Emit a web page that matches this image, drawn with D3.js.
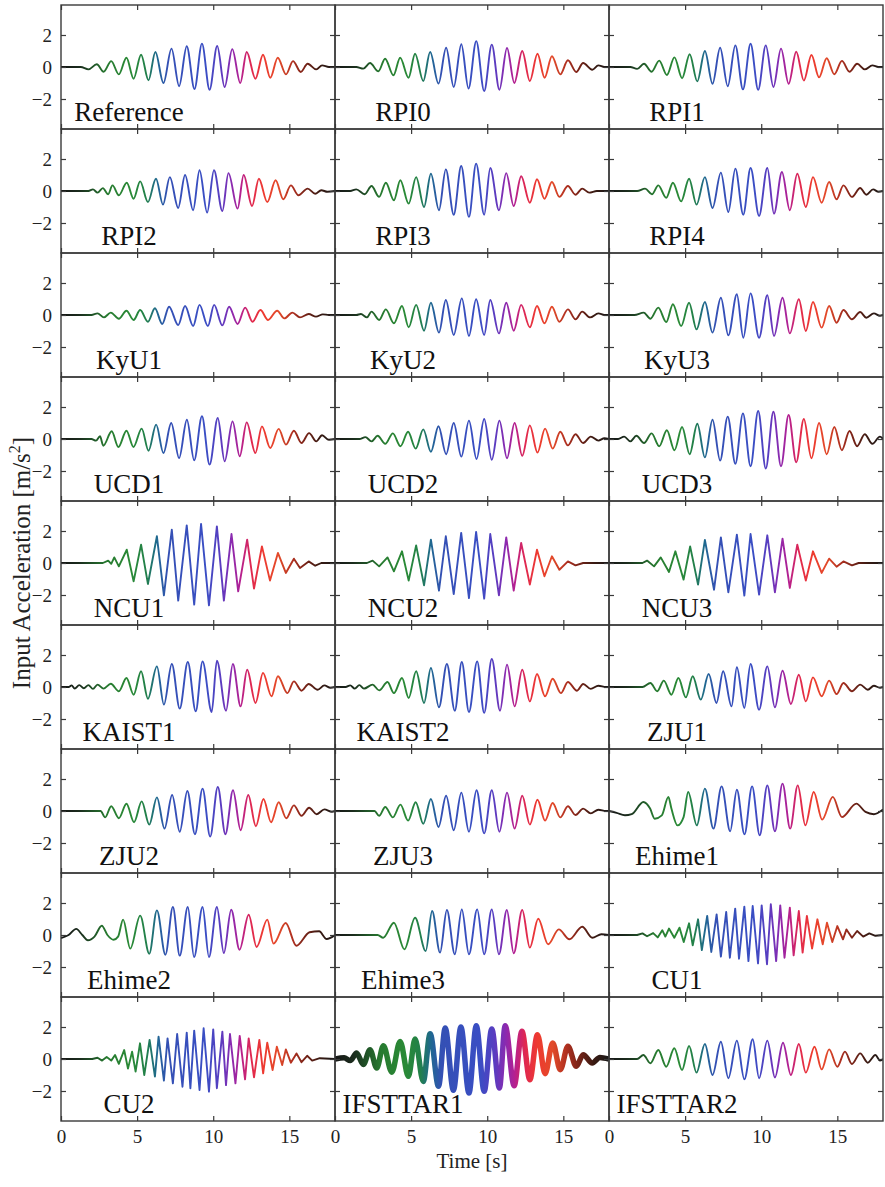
<!DOCTYPE html>
<html><head><meta charset="utf-8">
<script src="https://cdnjs.cloudflare.com/ajax/libs/d3/7.8.5/d3.min.js"></script>
<style>body{margin:0;background:#fff} svg{display:block}</style>
</head><body>
<svg id="chart" width="885" height="1187"></svg>
<script>
// ---------- data ([time s, acceleration m/s2] extrema) ----------
const panelLabels = ["Reference","RPI0","RPI1","RPI2","RPI3","RPI4","KyU1","KyU2","KyU3",
  "UCD1","UCD2","UCD3","NCU1","NCU2","NCU3","KAIST1","KAIST2","ZJU1",
  "ZJU2","ZJU3","Ehime1","Ehime2","Ehime3","CU1","CU2","IFSTTAR1","IFSTTAR2"];
const xTickValues = [0, 5, 10, 15];
const yTickValues = [-2, 0, 2];

const Reference = [[0,0],[1.3,0],[1.8,-0.15],[2.35,0.17],[2.8,-0.3],[3.3,0.37],[3.8,-0.46],[4.3,0.58],[4.77,-0.73],[5.26,0.77],[5.75,-0.83],[6.2,0.94],[6.73,-1.0],[7.26,1.15],[7.76,-1.2],[8.26,1.3],[8.77,-1.38],[9.26,1.46],[9.76,-1.42],[10.26,1.31],[10.75,-1.25],[11.25,1.12],[11.78,-1.0],[12.2,0.94],[12.77,-0.73],[13.27,0.77],[13.75,-0.67],[14.24,0.58],[14.78,-0.46],[15.24,0.37],[15.75,-0.31],[16.2,0.2],[16.77,-0.15],[17.15,0.1],[17.6,0],[18,0]];
const RPI0 = [[0,0],[1.4,0],[1.86,-0.1],[2.3,0.25],[2.85,-0.27],[3.29,0.52],[3.84,-0.52],[4.28,0.58],[4.83,-0.67],[5.26,0.83],[5.8,-0.88],[6.25,0.94],[6.8,-1.04],[7.3,1.2],[7.8,-1.25],[8.3,1.42],[8.77,-1.35],[9.28,1.62],[9.8,-1.5],[10.3,1.4],[10.8,-1.42],[11.3,1.19],[11.78,-1.0],[12.3,1.0],[12.8,-0.88],[13.3,0.83],[13.77,-0.67],[14.25,0.67],[14.8,-0.46],[15.3,0.42],[15.85,-0.31],[16.3,0.25],[16.9,-0.17],[17.3,0.1],[17.7,0],[18,0]];
const RPI1 = [[0,0],[1.4,0],[1.85,-0.12],[2.3,0.2],[2.8,-0.3],[3.3,0.4],[3.8,-0.5],[4.3,0.6],[4.8,-0.7],[5.3,0.8],[5.8,-0.9],[6.3,1.0],[6.8,-1.05],[7.3,1.2],[7.8,-1.2],[8.3,1.35],[8.8,-1.4],[9.3,1.45],[9.8,-1.42],[10.3,1.35],[10.8,-1.25],[11.3,1.15],[11.8,-1.05],[12.3,0.95],[12.8,-0.85],[13.3,0.75],[13.8,-0.65],[14.3,0.55],[14.8,-0.45],[15.3,0.38],[15.8,-0.3],[16.3,0.2],[16.8,-0.15],[17.3,0.1],[17.7,0],[18,0]];
const RPI2 = [[0,0],[1.8,0],[2.1,0.1],[2.4,-0.1],[2.75,0.18],[3.1,-0.2],[3.38,0.35],[3.8,-0.27],[4.32,0.52],[4.77,-0.48],[5.2,0.6],[5.71,-0.69],[6.24,0.77],[6.7,-0.85],[7.15,0.87],[7.7,-1.06],[8.15,1.0],[8.68,-1.2],[9.1,1.3],[9.6,-1.35],[10.05,1.3],[10.6,-1.25],[11.0,1.12],[11.6,-1.1],[12.0,1.0],[12.55,-0.94],[13.0,0.77],[13.55,-0.69],[14.1,0.67],[14.6,-0.52],[15.1,0.35],[15.6,-0.27],[16.2,0.15],[16.7,-0.17],[17.1,0.05],[17.5,-0.05],[18,0]];
const RPI3 = [[0,0],[1.0,0],[1.4,0.1],[1.95,-0.2],[2.4,0.31],[2.9,-0.37],[3.34,0.52],[3.87,-0.58],[4.29,0.67],[4.84,-0.79],[5.33,0.87],[5.85,-1.0],[6.3,1.08],[6.83,-1.2],[7.28,1.35],[7.8,-1.48],[8.29,1.56],[8.8,-1.62],[9.27,1.71],[9.8,-1.48],[10.2,1.44],[10.77,-1.2],[11.25,1.12],[11.74,-0.94],[12.23,0.92],[12.8,-0.73],[13.27,0.73],[13.76,-0.48],[14.25,0.56],[14.74,-0.37],[15.3,0.31],[15.8,-0.23],[16.24,0.15],[16.7,-0.1],[17.2,0],[18,0]];
const RPI4 = [[0,0],[1.85,0],[2.37,0.15],[2.82,-0.2],[3.24,0.35],[3.76,-0.42],[4.2,0.52],[4.74,-0.65],[5.26,0.77],[5.75,-0.85],[6.3,0.87],[6.8,-1.06],[7.35,1.15],[7.84,-1.31],[8.3,1.4],[8.82,-1.48],[9.3,1.44],[9.86,-1.56],[10.4,1.44],[10.84,-1.42],[11.36,1.19],[11.88,-1.2],[12.37,1.08],[12.93,-1.0],[13.4,0.87],[13.97,-0.73],[14.46,0.56],[14.95,-0.52],[15.4,0.35],[15.96,-0.37],[16.5,0.19],[16.9,-0.23],[17.35,0.1],[17.7,-0.05],[18,0]];
const KyU1 = [[0,0],[2.0,0],[2.4,0.1],[2.82,-0.15],[3.27,0.15],[3.8,-0.23],[4.3,0.27],[4.77,-0.31],[5.2,0.31],[5.71,-0.42],[6.17,0.42],[6.65,-0.56],[7.1,0.52],[7.7,-0.63],[8.15,0.56],[8.68,-0.69],[9.1,0.63],[9.65,-0.69],[10.06,0.63],[10.6,-0.65],[11.04,0.52],[11.6,-0.56],[12.1,0.46],[12.58,-0.42],[13.1,0.31],[13.6,-0.31],[14.2,0.27],[14.67,-0.21],[15.2,0.15],[15.7,-0.15],[16.27,0.06],[16.75,-0.1],[17.2,0.04],[17.6,0],[18,0]];
const KyU2 = [[0,0],[1.4,0],[1.7,0.06],[2.1,-0.15],[2.4,0.21],[2.9,-0.31],[3.34,0.35],[3.87,-0.52],[4.4,0.56],[4.84,-0.77],[5.33,0.63],[5.85,-0.98],[6.3,0.77],[6.83,-1.1],[7.28,0.94],[7.8,-1.25],[8.33,1.04],[8.8,-1.31],[9.27,0.98],[9.8,-1.25],[10.2,0.94],[10.77,-1.15],[11.25,0.77],[11.74,-0.98],[12.23,0.63],[12.8,-0.77],[13.27,0.56],[13.76,-0.52],[14.25,0.52],[14.74,-0.42],[15.3,0.35],[15.8,-0.27],[16.24,0.21],[16.76,-0.15],[17.3,0.1],[17.7,0],[18,0]];
const KyU3 = [[0,0],[1.67,0],[2.28,0.15],[2.72,-0.23],[3.24,0.46],[3.76,-0.44],[4.2,0.67],[4.74,-0.69],[5.26,0.77],[5.75,-0.9],[6.3,0.81],[6.8,-1.1],[7.35,1.08],[7.84,-1.27],[8.4,1.3],[8.82,-1.42],[9.3,1.35],[9.86,-1.42],[10.4,1.23],[10.84,-1.31],[11.4,1.08],[11.88,-1.15],[12.47,0.98],[12.93,-1.0],[13.4,0.81],[13.97,-0.79],[14.46,0.56],[14.95,-0.48],[15.4,0.31],[15.96,-0.27],[16.5,0.19],[16.9,-0.17],[17.4,0.1],[17.8,-0.05],[18,0]];
const UCD1 = [[0,0],[2.0,0],[2.3,-0.1],[2.56,0.17],[2.78,-0.42],[3.33,0.48],[3.77,-0.5],[4.3,0.52],[4.76,-0.5],[5.3,0.65],[5.75,-0.73],[6.25,0.9],[6.73,-0.88],[7.24,1.0],[7.76,-1.19],[8.27,1.2],[8.75,-1.33],[9.26,1.42],[9.76,-1.6],[10.3,1.31],[10.75,-1.4],[11.27,1.1],[11.74,-1.08],[12.2,1.04],[12.77,-0.88],[13.2,0.79],[13.75,-0.56],[14.3,0.63],[14.78,-0.35],[15.3,0.52],[15.8,-0.25],[16.3,0.37],[16.77,-0.15],[17.15,0.23],[17.6,-0.05],[18,0]];
const UCD2 = [[0,0],[1.6,0],[2.0,0.12],[2.4,-0.15],[2.8,0.2],[3.3,-0.3],[3.8,0.35],[4.3,-0.45],[4.8,0.45],[5.3,-0.6],[5.8,0.6],[6.3,-0.8],[6.8,0.8],[7.3,-0.95],[7.8,1.0],[8.3,-1.1],[8.8,1.15],[9.3,-1.25],[9.8,1.25],[10.3,-1.3],[10.8,1.15],[11.3,-1.2],[11.8,1.0],[12.3,-1.05],[12.8,0.85],[13.3,-0.85],[13.8,0.65],[14.3,-0.6],[14.8,0.45],[15.3,-0.4],[15.8,0.3],[16.3,-0.25],[16.8,0.15],[17.3,-0.1],[17.7,0.05],[18,0]];
const UCD3 = [[0,0],[0.6,0],[1.0,0.15],[1.4,-0.15],[1.8,0.2],[2.3,-0.25],[2.8,0.35],[3.3,-0.45],[3.8,0.55],[4.3,-0.7],[4.8,0.75],[5.3,-0.95],[5.8,0.95],[6.3,-1.15],[6.8,1.2],[7.3,-1.35],[7.8,1.4],[8.3,-1.55],[8.8,1.6],[9.3,-1.7],[9.8,1.75],[10.3,-1.85],[10.8,1.7],[11.3,-1.7],[11.8,1.5],[12.3,-1.45],[12.8,1.25],[13.3,-1.2],[13.8,1.0],[14.3,-0.95],[14.8,0.75],[15.3,-0.7],[15.8,0.5],[16.3,-0.45],[16.8,0.3],[17.3,-0.3],[17.8,0.15],[18,0]];
const NCU1 = [[0,0],[2.75,0],[3.1,0.15],[3.3,-0.05],[3.5,0.35],[3.8,-0.21],[4.32,0.83],[4.77,-1.15],[5.26,1.15],[5.71,-1.31],[6.3,1.67],[6.76,-2.02],[7.28,2.08],[7.7,-2.35],[8.26,2.35],[8.75,-2.6],[9.2,2.44],[9.72,-2.65],[10.24,2.29],[10.7,-2.35],[11.2,1.81],[11.64,-1.77],[12.23,1.46],[12.68,-1.6],[13.2,1.04],[13.73,-1.1],[14.25,0.63],[14.77,-0.62],[15.3,0.27],[15.7,-0.31],[16.27,0.1],[16.7,-0.17],[17.1,0],[18,0]];
const NCU2 = [[0,0],[2.1,0],[2.47,0.15],[2.9,-0.21],[3.45,0.35],[3.87,-0.52],[4.4,0.73],[4.84,-1.1],[5.33,1.1],[5.85,-1.4],[6.3,1.46],[6.83,-1.73],[7.28,1.67],[7.8,-1.94],[8.29,1.88],[8.8,-2.19],[9.27,1.94],[9.8,-2.23],[10.2,1.81],[10.77,-2.02],[11.25,1.6],[11.74,-1.73],[12.23,1.25],[12.8,-1.35],[13.27,0.83],[13.76,-0.83],[14.25,0.42],[14.74,-0.42],[15.3,0.1],[15.8,-0.15],[16.3,0],[18,0]];
const NCU3 = [[0,0],[2.2,0],[2.5,0.15],[2.96,-0.21],[3.4,0.35],[3.94,-0.56],[4.36,0.73],[4.9,-1.04],[5.33,1.04],[5.85,-1.35],[6.3,1.44],[6.9,-1.67],[7.35,1.6],[7.84,-1.83],[8.4,1.77],[8.89,-2.04],[9.3,1.81],[9.86,-1.98],[10.4,1.73],[10.9,-1.83],[11.4,1.52],[11.88,-1.56],[12.37,1.15],[12.93,-1.1],[13.4,0.73],[13.97,-0.62],[14.46,0.27],[14.95,-0.23],[15.4,0.1],[15.96,-0.15],[16.4,0],[18,0]];
const KAIST1 = [[0,0],[0.5,0],[0.7,0.1],[0.9,-0.1],[1.2,0.12],[1.5,-0.08],[1.8,0.12],[2.1,-0.12],[2.4,0.15],[2.8,-0.1],[3.27,0.2],[3.8,-0.27],[4.3,0.56],[4.77,-0.48],[5.26,0.98],[5.71,-0.73],[6.3,1.29],[6.76,-1.1],[7.28,1.44],[7.8,-1.35],[8.33,1.56],[8.85,-1.52],[9.3,1.6],[9.9,-1.56],[10.24,1.65],[10.84,-1.48],[11.29,1.44],[11.8,-1.21],[12.23,1.08],[12.78,-1.0],[13.27,0.88],[13.83,-0.58],[14.25,0.67],[14.87,-0.38],[15.3,0.35],[15.8,-0.23],[16.27,0.19],[16.86,-0.17],[17.3,0.1],[17.7,-0.05],[18,0]];
const KAIST2 = [[0,0],[0.7,0],[1.0,0.1],[1.3,-0.1],[1.6,0.12],[1.9,-0.1],[2.47,0.15],[2.9,-0.21],[3.45,0.31],[3.87,-0.38],[4.4,0.56],[4.84,-0.69],[5.33,0.98],[5.85,-1.0],[6.3,1.19],[6.83,-1.27],[7.35,1.44],[7.87,-1.48],[8.33,1.56],[8.8,-1.56],[9.34,1.6],[9.8,-1.62],[10.3,1.75],[10.84,-1.48],[11.3,1.4],[11.8,-1.21],[12.3,1.08],[12.8,-0.9],[13.27,0.81],[13.8,-0.58],[14.3,0.52],[14.84,-0.38],[15.3,0.31],[15.9,-0.23],[16.3,0.19],[16.8,-0.12],[17.3,0.08],[17.8,0],[18,0]];
const ZJU1 = [[0,0],[2.2,0],[2.72,0.25],[3.17,-0.27],[3.6,0.4],[4.1,-0.48],[4.56,0.56],[5.05,-0.65],[5.5,0.67],[6.03,-0.79],[6.55,0.81],[7.06,-1.0],[7.5,0.98],[8.05,-1.21],[8.4,1.23],[8.89,-1.31],[9.3,1.44],[9.86,-1.42],[10.4,1.29],[10.9,-1.27],[11.4,1.02],[11.95,-1.06],[12.47,0.77],[12.93,-0.9],[13.4,0.6],[13.97,-0.58],[14.46,0.4],[14.95,-0.44],[15.4,0.25],[15.96,-0.27],[16.5,0.15],[17.0,-0.17],[17.4,0.08],[17.8,-0.05],[18,0]];
const ZJU2 = [[0,0],[2.6,0],[2.9,-0.4],[3.3,0.3],[3.8,-0.45],[4.3,0.45],[4.8,-0.7],[5.3,0.6],[5.8,-0.85],[6.3,0.85],[6.8,-1.1],[7.3,1.0],[7.8,-1.3],[8.3,1.25],[8.8,-1.45],[9.3,1.4],[9.8,-1.6],[10.3,1.5],[10.8,-1.45],[11.3,1.3],[11.8,-1.2],[12.3,1.0],[12.8,-0.95],[13.3,0.75],[13.8,-0.7],[14.3,0.55],[14.8,-0.45],[15.3,0.35],[15.8,-0.3],[16.3,0.2],[16.8,-0.2],[17.3,0.1],[17.8,-0.05],[18,0]];
const ZJU3 = [[0,0],[2.6,0],[2.9,-0.3],[3.3,0.25],[3.8,-0.4],[4.3,0.4],[4.8,-0.6],[5.3,0.55],[5.8,-0.8],[6.3,0.75],[6.8,-1.0],[7.3,0.95],[7.8,-1.2],[8.3,1.15],[8.8,-1.3],[9.3,1.3],[9.8,-1.4],[10.3,1.3],[10.8,-1.3],[11.3,1.15],[11.8,-1.1],[12.3,0.95],[12.8,-0.85],[13.3,0.7],[13.8,-0.6],[14.3,0.5],[14.8,-0.4],[15.3,0.3],[15.8,-0.25],[16.3,0.15],[16.8,-0.15],[17.3,0.08],[17.8,0],[18,0]];
const Ehime1 = [[0,0],[0.5,-0.12],[1.05,-0.27],[1.49,-0.2],[2.26,0.56],[2.7,0.15],[3.0,-0.48],[3.47,-0.27],[3.9,0.88],[4.1,0.15],[4.5,-0.9],[4.9,-0.38],[5.2,1.19],[5.77,-0.9],[6.3,1.4],[6.86,-1.1],[7.4,1.54],[7.96,-1.27],[8.4,1.33],[8.9,-1.46],[9.4,1.54],[9.9,-1.52],[10.4,1.6],[10.9,-1.27],[11.4,1.71],[11.9,-1.1],[12.4,1.6],[12.9,-0.9],[13.45,1.19],[14.0,-0.54],[14.7,0.88],[15.3,-0.38],[16.25,0.46],[16.85,-0.06],[17.4,-0.2],[18,0.1]];
const Ehime2 = [[0,-0.19],[0.5,0.0],[1.0,0.38],[1.4,0.0],[1.77,-0.33],[2.2,-0.1],[2.68,0.58],[3.05,0.0],[3.45,-0.3],[3.75,-0.1],[4.08,0.96],[4.55,-0.85],[5.2,1.21],[5.8,-1.17],[6.3,1.54],[6.86,-1.23],[7.35,1.75],[7.8,-1.29],[8.33,1.75],[8.74,-1.38],[9.3,1.75],[9.72,-1.38],[10.24,1.75],[10.7,-1.13],[11.18,1.58],[11.73,-0.92],[12.33,1.27],[12.85,-0.75],[13.55,0.96],[13.96,-0.54],[14.76,0.75],[15.46,-0.67],[16.33,0.17],[16.96,0.23],[17.45,-0.25],[18,0]];
const Ehime3 = [[0,0],[2.8,0],[3.17,-0.17],[3.87,0.77],[4.56,-0.9],[5.26,1.08],[5.96,-1.0],[6.38,1.5],[6.9,-1.1],[7.35,1.56],[7.87,-1.21],[8.33,1.6],[8.8,-1.21],[9.34,1.6],[9.8,-1.21],[10.3,1.6],[10.77,-1.21],[11.29,1.56],[11.74,-1.15],[12.3,1.56],[12.8,-0.79],[13.35,1.02],[14.0,-0.58],[14.7,0.35],[15.4,-0.27],[16.24,0.52],[16.9,-0.17],[17.5,0.05],[18,0]];
const CU1 = [[0,0],[1.85,0],[2.2,0.1],[2.5,-0.08],[2.9,0.12],[3.2,-0.15],[3.5,0.3],[3.7,-0.1],[3.94,0.4],[4.29,-0.17],[4.63,0.46],[4.91,-0.44],[5.26,0.73],[5.5,-0.65],[5.85,0.98],[6.1,-0.94],[6.45,1.19],[6.72,-1.06],[7.07,1.29],[7.35,-1.35],[7.7,1.44],[7.94,-1.42],[8.29,1.65],[8.54,-1.48],[8.89,1.77],[9.16,-1.63],[9.44,1.81],[9.79,-1.77],[10.03,1.85],[10.38,-1.83],[10.63,1.92],[10.98,-1.63],[11.25,1.85],[11.53,-1.42],[11.88,1.71],[12.13,-1.27],[12.47,1.5],[12.72,-1.1],[13.0,1.19],[13.34,-0.85],[13.69,0.98],[14.04,-0.58],[14.32,0.77],[14.67,-0.44],[15.0,0.56],[15.37,-0.27],[15.6,0.35],[15.96,-0.17],[16.3,0.25],[16.7,-0.1],[17.1,0.1],[17.5,-0.05],[18,0]];
const CU2 = [[0,0],[2.05,0],[2.4,0.08],[2.7,-0.1],[3.0,0.12],[3.3,-0.1],[3.55,0.25],[3.8,-0.3],[4.15,0.56],[4.4,-0.6],[4.67,0.46],[4.9,-0.79],[5.19,0.98],[5.47,-1.0],[5.82,1.19],[6.17,-1.1],[6.41,1.4],[6.76,-1.35],[7.0,1.29],[7.35,-1.52],[7.63,1.56],[7.98,-1.73],[8.26,1.65],[8.5,-1.83],[8.75,1.77],[9.1,-1.94],[9.37,1.92],[9.72,-2.04],[10.0,1.85],[10.24,-1.83],[10.6,1.71],[10.84,-1.63],[11.1,1.56],[11.46,-1.52],[11.74,1.44],[12.09,-1.27],[12.33,1.29],[12.68,-1.15],[13.03,1.19],[13.28,-0.9],[13.55,1.02],[13.9,-0.69],[14.18,0.77],[14.53,-0.38],[14.77,0.6],[15.1,-0.23],[15.47,0.35],[15.8,-0.2],[16.17,0.2],[16.5,-0.1],[17.0,0.05],[18,0]];
const IFSTTAR1 = [[0,0],[0.6,0.08],[1.0,-0.1],[1.42,0.37],[1.86,-0.35],[2.3,0.58],[2.74,-0.56],[3.18,0.83],[3.73,-0.83],[4.28,1.1],[4.82,-1.08],[5.26,1.25],[5.8,-1.4],[6.25,1.58],[6.8,-1.71],[7.24,1.94],[7.78,-1.96],[8.27,2.0],[8.8,-2.13],[9.28,2.08],[9.8,-2.02],[10.3,1.88],[10.8,-1.81],[11.18,2.08],[11.77,-1.67],[12.28,1.73],[12.8,-1.29],[13.3,1.52],[13.8,-0.92],[14.3,1.0],[14.8,-0.67],[15.3,0.79],[15.85,-0.46],[16.3,0.27],[16.9,-0.25],[17.4,0.1],[18,0]];
const IFSTTAR2 = [[0,0],[1.85,0],[2.26,0.25],[2.72,-0.27],[3.24,0.56],[3.76,-0.48],[4.29,0.67],[4.8,-0.69],[5.26,0.81],[5.75,-0.85],[6.3,0.94],[6.8,-1.0],[7.35,1.08],[7.84,-1.2],[8.4,1.15],[8.89,-1.27],[9.44,1.23],[9.86,-1.2],[10.4,1.15],[10.9,-1.15],[11.43,1.02],[11.95,-1.0],[12.47,0.94],[12.93,-0.85],[13.5,0.77],[13.97,-0.65],[14.46,0.6],[15.0,-0.48],[15.5,0.46],[15.96,-0.31],[16.5,0.35],[17.0,-0.23],[17.5,0.25],[17.8,-0.1],[18,0]];

const panelSeries = [Reference,RPI0,RPI1,RPI2,RPI3,RPI4,KyU1,KyU2,KyU3,UCD1,UCD2,UCD3,NCU1,NCU2,NCU3,
  KAIST1,KAIST2,ZJU1,ZJU2,ZJU3,Ehime1,Ehime2,Ehime3,CU1,CU2,IFSTTAR1,IFSTTAR2];

// ---------- styling ----------
const spikyPanels = ["NCU1","NCU2","NCU3","CU1","CU2"];
const thickPanels = ["IFSTTAR1"];
const timeColors = [[0,"#161616"],[1.2,"#1b2c1d"],[2.0,"#1f4f26"],[3.0,"#277a30"],[4.6,"#2a8a36"],[5.6,"#22804a"],
  [6.3,"#1f6890"],[7.0,"#3450b4"],[9.5,"#3a4ec4"],[10.5,"#5a3cc0"],[11.2,"#8a2ab0"],[11.8,"#b52090"],
  [12.5,"#e02850"],[13.3,"#ee3a30"],[14.3,"#e24a2a"],[15.2,"#b03020"],[16.0,"#7a2418"],[17.0,"#3a1a12"],[18,"#1a1a1a"]];

const svg = d3.select("#chart");
const W = 885, H = 1187;
const mLeft = 61, mTop = 5, pw = 274, ph = 124, ncol = 3, nrow = 9;
const serif = "'Liberation Serif','Times New Roman',serif";

const x = d3.scaleLinear().domain([0, 18]).range([0, pw]);
const y = d3.scaleLinear().domain([-3.875, 3.875]).range([ph, 0]);

const defs = svg.append("defs");
const grad = defs.append("linearGradient").attr("id", "tgrad")
  .attr("gradientUnits", "userSpaceOnUse")
  .attr("x1", x(0)).attr("x2", x(18)).attr("y1", 0).attr("y2", 0);
timeColors.forEach(([t, c]) => grad.append("stop").attr("offset", t / 18).attr("stop-color", c));
defs.append("clipPath").attr("id", "pclip").append("rect")
  .attr("x", 0).attr("y", 0).attr("width", pw).attr("height", ph);

svg.append("rect").attr("width", W).attr("height", H).attr("fill", "#fff");

panelSeries.forEach((series, i) => {
  const col = i % ncol, row = Math.floor(i / ncol);
  const name = panelLabels[i];
  const g = svg.append("g").attr("transform", `translate(${mLeft + col * pw},${mTop + row * ph})`);
  const line = d3.line().x(d => x(d[0])).y(d => y(d[1]))
    .curve(spikyPanels.includes(name) ? d3.curveLinear : d3.curveMonotoneX);
  g.append("path").datum(series)
    .attr("d", line)
    .attr("fill", "none")
    .attr("stroke", "url(#tgrad)")
    .attr("stroke-width", thickPanels.includes(name) ? 5.5 : 1.9)
    .attr("stroke-linejoin", "round")
    .attr("clip-path", "url(#pclip)");

  const axL = d3.axisLeft(y).tickValues(yTickValues).tickSizeInner(-5).tickSizeOuter(0).tickPadding(9)
    .tickFormat(col === 0 ? d3.format("d") : () => "");
  const axR = d3.axisRight(y).tickValues(yTickValues).tickSizeInner(-5).tickSizeOuter(0).tickFormat(() => "");
  const axT = d3.axisTop(x).tickValues(xTickValues).tickSizeInner(-5).tickSizeOuter(0).tickFormat(() => "");
  const axB = d3.axisBottom(x).tickValues(xTickValues).tickSizeInner(-5).tickSizeOuter(0).tickPadding(8.5)
    .tickFormat(row === nrow - 1 ? d3.format("d") : () => "");
  [[axL, 0, 0], [axR, pw, 0], [axT, 0, 0], [axB, 0, ph]].forEach(([ax, tx, ty]) => {
    const a = g.append("g").attr("transform", `translate(${tx},${ty})`).call(ax);
    a.select(".domain").remove();
    a.selectAll(".tick line").attr("stroke", "#3a3a3a").attr("stroke-width", 1.2);
    a.selectAll(".tick text").attr("fill", "#222").attr("font-family", serif).attr("font-size", 19);
  });
  g.append("rect").attr("width", pw).attr("height", ph)
    .attr("fill", "none").attr("stroke", "#3a3a3a").attr("stroke-width", 1.4);

  g.append("text").attr("x", 68).attr("y", 116)
    .attr("text-anchor", "middle").attr("font-family", serif).attr("font-size", 27).attr("fill", "#111")
    .text(name);
});

svg.append("text").attr("x", mLeft + 1.5 * pw).attr("y", 1168)
  .attr("text-anchor", "middle").attr("font-family", serif).attr("font-size", 21).attr("fill", "#222")
  .text("Time [s]");
const yl = svg.append("text").attr("transform", `translate(30,${mTop + nrow * ph / 2}) rotate(-90)`)
  .attr("text-anchor", "middle").attr("font-family", serif).attr("font-size", 25).attr("fill", "#222");
yl.append("tspan").text("Input Acceleration [m/s");
yl.append("tspan").attr("font-size", 16).attr("dy", -10).text("2");
yl.append("tspan").attr("dy", 10).text("]");
</script>
</body></html>
